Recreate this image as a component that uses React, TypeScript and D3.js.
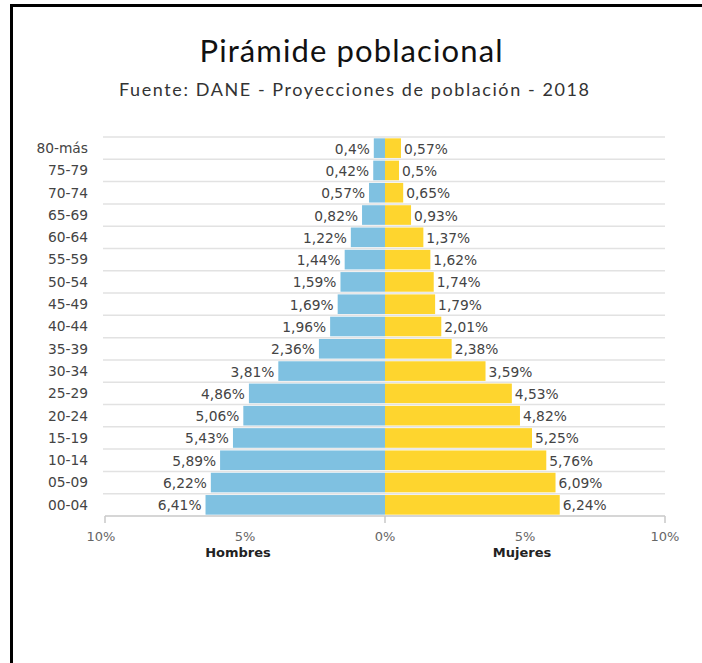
import React, { useEffect } from "react";
import * as d3 from "d3";

const categories = ["80-más","75-79","70-74","65-69","60-64","55-59","50-54","45-49","40-44","35-39","30-34","25-29","20-24","15-19","10-14","05-09","00-04"];
const hombres = [0.4,0.42,0.57,0.82,1.22,1.44,1.59,1.69,1.96,2.36,3.81,4.86,5.06,5.43,5.89,6.22,6.41];
const mujeres = [0.57,0.5,0.65,0.93,1.37,1.62,1.74,1.79,2.01,2.38,3.59,4.53,4.82,5.25,5.76,6.09,6.24];
const tickValues = [-10,-5,0,5,10];
const title = "Pirámide poblacional";
const subtitle = "Fuente: DANE - Proyecciones de población - 2018";

const W = 702, H = 663;
const fmt = (v: number) => String(v).replace(".", ",") + "%";

export default function App() {
  useEffect(() => { document.body.style.margin = "0"; }, []);
  const x = d3.scaleLinear().domain([-10, 10]).range([105, 665]);
  const y = d3.scaleBand().domain(categories).range([137, 516]).paddingInner(0.12).paddingOuter(0.06);
  const step = y.step();
  const blue = "#7fc1e1";
  const yellow = "#fed52e";
  const labelFont = "'DejaVu Sans', Verdana, sans-serif";
  const fs = 13.8;
  return (
    <svg width={W} height={H} style={{ display: "block", background: "#fff" }}>
      <rect x={0} y={0} width={W} height={H} fill="#fff" />
      <line x1={10} x2={W} y1={5.5} y2={5.5} stroke="#000" strokeWidth={3} />
      <line x1={11.5} x2={11.5} y1={4} y2={H} stroke="#000" strokeWidth={3} />
      <text x={351} y={62} textAnchor="middle" fontFamily="Lato, sans-serif" fontSize={31} fill="#111" textLength={303} lengthAdjust="spacing">{title}</text>
      <text x={354} y={96} textAnchor="middle" fontFamily="Lato, sans-serif" fontSize={18} fill="#333" textLength={470} lengthAdjust="spacing">{subtitle}</text>
      {categories.map((c, i) => (
        <line key={"g" + i} x1={103} x2={665} y1={137 + i * step} y2={137 + i * step} stroke="#e2e2e2" strokeWidth={1.5} />
      ))}
      {categories.map((c, i) => (
        <g key={c}>
          <rect x={x(-hombres[i])} y={y(c)} width={x(0) - x(-hombres[i])} height={y.bandwidth()} fill={blue} />
          <rect x={x(0)} y={y(c)} width={x(mujeres[i]) - x(0)} height={y.bandwidth()} fill={yellow} />
          <text x={88} y={(y(c) as number) + y.bandwidth() / 2} dy="0.35em" textAnchor="end" fontFamily={labelFont} fontSize={fs} fill="#444">{c}</text>
          <text x={x(-hombres[i]) - 4} y={(y(c) as number) + y.bandwidth() / 2} dy="0.4em" textAnchor="end" fontFamily={labelFont} fontSize={fs} fill="#444">{fmt(hombres[i])}</text>
          <text x={x(mujeres[i]) + 3} y={(y(c) as number) + y.bandwidth() / 2} dy="0.4em" textAnchor="start" fontFamily={labelFont} fontSize={fs} fill="#444">{fmt(mujeres[i])}</text>
        </g>
      ))}
      <line x1={105} x2={665} y1={516} y2={516} stroke="#c8c8c8" strokeWidth={1.5} />
      {[-10, 0, 10].map((t) => (
        <line key={"t" + t} x1={x(t)} x2={x(t)} y1={516} y2={523} stroke="#c8c8c8" strokeWidth={1.5} />
      ))}
      {tickValues.map((t) => (
        <text key={"l" + t} x={x(t) + (t === -10 ? -4 : 0)} y={541} textAnchor="middle" fontFamily={labelFont} fontSize={13} fill="#666">{Math.abs(t) + "%"}</text>
      ))}
      <text x={x(-5) - 7} y={557} textAnchor="middle" fontFamily={labelFont} fontSize={13} fontWeight="bold" fill="#222">Hombres</text>
      <text x={x(5) - 3} y={557} textAnchor="middle" fontFamily={labelFont} fontSize={13} fontWeight="bold" fill="#222">Mujeres</text>
    </svg>
  );
}
